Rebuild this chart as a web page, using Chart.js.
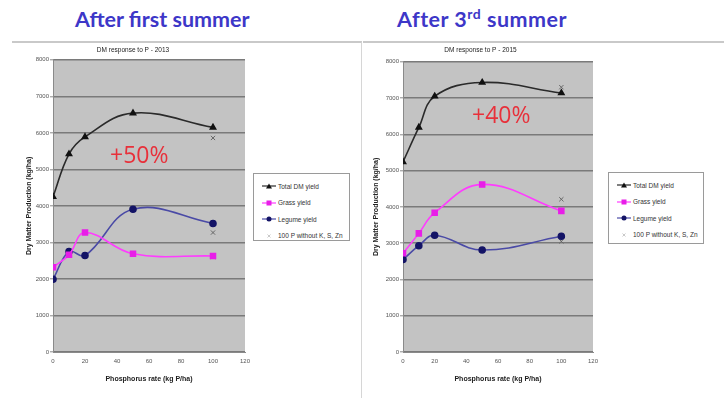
<!DOCTYPE html>
<html lang="en">
<head>
  <meta charset="UTF-8" />
  <title>DM response to P</title>
  <script src="https://cdn.jsdelivr.net/npm/chart.js"></script>
  <style>
    * { margin: 0; padding: 0; box-sizing: border-box; }
    body {
      width: 724px;
      height: 398px;
      background: #fff;
      position: relative;
      overflow: hidden;
      font-family: 'Liberation Sans', Arial, sans-serif;
    }
    .heading {
      position: absolute;
      top: 6px;
      font-family: Lato, 'Open Sans', sans-serif;
      font-weight: bold;
      font-size: 21.5px;
      color: #3d37c8;
      white-space: nowrap;
    }
    .heading sup { font-size: 0.65em; vertical-align: 0.55em; line-height: 0; }
    .frame {
      position: absolute;
      top: 41px;
      height: 357px;
      border-top: 2px solid #c9c9c9;
    }
    .chart-box { position: absolute; top: 42px; width: 362px; height: 356px; }
    .gain {
      position: absolute;
      font-family: 'Open Sans', sans-serif;
      font-size: 23px;
      color: #e8303a;
      white-space: nowrap;
    }
    .legend {
      position: absolute;
      border: 1px solid #9a9a9a;
      background: #fff;
      font-size: 6.5px;
      color: #333;
      padding: 4px 4px 0 8px;
    }
    .legend div { height: 16.5px; display: flex; align-items: center; white-space: nowrap; }
    .legend svg { margin-right: 2px; flex: none; }
  </style>
</head>
<body>
  <div class="heading" style="left:75px;">After first summer</div>
  <div class="heading" style="left:397px; letter-spacing:0.5px;">After 3<sup>rd</sup> summer</div>

  <div class="frame" style="left:12px; width:350px; border-right:1px solid #d6d6d6;"></div>
  <div class="frame" style="left:363px; width:361px;"></div>

  <div class="chart-box" style="left:0;"><canvas id="chart2013"></canvas></div>
  <div class="chart-box" style="left:362px;"><canvas id="chart2015"></canvas></div>

  <div class="gain" style="left:110px; top:138px;">+50%</div>
  <div class="gain" style="left:472px; top:98px;">+40%</div>

  <div class="legend" id="legend2013" style="left:253px; top:173px; width:97px; height:68px;"></div>
  <div class="legend" id="legend2015" style="left:608px; top:172px; width:96px; height:72px;"></div>

  <script>
    // phosphorus rates (kg P/ha)
    const pRates = [0, 10, 20, 50, 100];
    const xTicks = [0, 20, 40, 60, 80, 100, 120];
    const yTicks = [0, 1000, 2000, 3000, 4000, 5000, 6000, 7000, 8000];
    const seriesNames = ['Total DM yield', 'Grass yield', 'Legume yield', '100 P without K, S, Zn'];

    // 2013 - after first summer
    const total2013 = [4250, 5420, 5890, 6540, 6150];
    const grass2013 = [2320, 2660, 3270, 2690, 2630];
    const legume2013 = [1990, 2750, 2640, 3910, 3520];
    const noKSZn2013 = [5860, 3270, 2600];

    // 2015 - after 3rd summer
    const total2015 = [5240, 6190, 7050, 7430, 7140];
    const grass2015 = [2720, 3270, 3840, 4620, 3890];
    const legume2015 = [2550, 2930, 3220, 2810, 3190];
    const noKSZn2015 = [7300, 4210, 3050];

    const styles = [
      { line: '#2a2a2a', point: '#111', shape: 'triangle', r: 3 },
      { line: '#ff3cff', point: '#e81ee8', shape: 'rect', r: 3.5 },
      { line: '#4a4aa6', point: '#141466', shape: 'circle', r: 3 },
      { line: 'transparent', point: '#666', shape: 'crossRot', r: 3 }
    ];

    const plotBg = {
      id: 'plotBg',
      beforeDraw(chart) {
        const a = chart.chartArea;
        const c = chart.ctx;
        c.save();
        c.fillStyle = '#c3c3c3';
        c.fillRect(a.left, a.top, a.right - a.left, a.bottom - a.top);
        c.restore();
      }
    };

    function makeChart(id, title, series, extra, padLeft, yWidth, padRight, titleGap) {
      const datasets = series.map((vals, i) => ({
        label: seriesNames[i],
        data: vals.map((v, j) => ({ x: pRates[j], y: v })),
        showLine: true,
        tension: 0.4,
        borderColor: styles[i].line,
        borderWidth: 1.6,
        pointStyle: styles[i].shape,
        pointRadius: styles[i].r,
        pointBackgroundColor: styles[i].point,
        pointBorderColor: styles[i].point
      }));
      datasets.push({
        label: seriesNames[3],
        data: extra.map(v => ({ x: 100, y: v })),
        showLine: false,
        pointStyle: styles[3].shape,
        pointRadius: styles[3].r,
        pointBorderWidth: 1,
        pointBorderColor: styles[3].point,
        pointBackgroundColor: styles[3].point
      });

      return new Chart(document.getElementById(id), {
        type: 'scatter',
        data: { datasets },
        options: {
          responsive: true,
          maintainAspectRatio: false,
          animation: false,
          layout: { padding: { left: padLeft, right: padRight, top: 0, bottom: 11 } },
          plugins: {
            legend: { display: false },
            tooltip: { enabled: false },
            title: {
              display: true,
              text: title,
              color: '#222',
              font: { size: 6.5, weight: 'normal', family: 'Liberation Sans' },
              padding: { top: 4, bottom: titleGap }
            }
          },
          scales: {
            x: {
              type: 'linear',
              min: 0,
              max: 120,
              afterBuildTicks(scale) { scale.ticks = xTicks.map(v => ({ value: v })); },
              afterFit(scale) { scale.height = 35; },
              grid: { display: false },
              border: { display: true, color: '#8a8a8a', width: 1 },
              ticks: { color: '#555', font: { size: 6 }, padding: -2, callback: v => String(v) },
              title: {
                display: true,
                text: 'Phosphorus rate (kg P/ha)',
                color: '#222',
                font: { size: 7, weight: 'bold' },
                padding: { top: 2, bottom: 4 }
              }
            },
            y: {
              min: 0,
              max: 8000,
              afterBuildTicks(scale) { scale.ticks = yTicks.map(v => ({ value: v })); },
              afterFit(scale) { scale.width = yWidth; },
              grid: { color: '#7a7a7a', lineWidth: 1.6, tickLength: 3, tickColor: '#8a8a8a', tickWidth: 1 },
              border: { display: true, color: '#8a8a8a', width: 1 },
              ticks: { color: '#555', font: { size: 6 }, padding: 1, callback: v => String(v) },
              title: {
                display: true,
                text: 'Dry Matter Production (kg/ha)',
                color: '#222',
                font: { size: 7, weight: 'bold' },
                padding: { top: 4, bottom: 2 }
              }
            }
          }
        },
        plugins: [plotBg]
      });
    }

    makeChart('chart2013', 'DM response to P - 2013',
      [total2013, grass2013, legume2013], noKSZn2013, 21, 32, 117, 6);
    makeChart('chart2015', 'DM response to P - 2015',
      [total2015, grass2015, legume2015], noKSZn2015, 6, 35, 131, 8);

    function legendIcon(s) {
      let mark = '';
      if (s.shape === 'triangle') mark = '<polygon points="7,1.5 10,6.5 4,6.5" fill="' + s.point + '"/>';
      else if (s.shape === 'rect') mark = '<rect x="4.5" y="1.5" width="5" height="5" fill="' + s.point + '"/>';
      else if (s.shape === 'circle') mark = '<circle cx="7" cy="4" r="2.5" fill="' + s.point + '"/>';
      else mark = '<path d="M5.5 2.5 L8.5 5.5 M8.5 2.5 L5.5 5.5" stroke="#bbb" stroke-width="0.8"/>';
      const line = s.line === 'transparent' ? '' :
        '<line x1="0" y1="4" x2="14" y2="4" stroke="' + s.line + '" stroke-width="1.2"/>';
      return '<svg width="14" height="8">' + line + mark + '</svg>';
    }

    ['legend2013', 'legend2015'].forEach(id => {
      document.getElementById(id).innerHTML = seriesNames.map((name, i) =>
        '<div>' + legendIcon(styles[i]) + '<span>' + name + '</span></div>').join('');
    });
  </script>
</body>
</html>
